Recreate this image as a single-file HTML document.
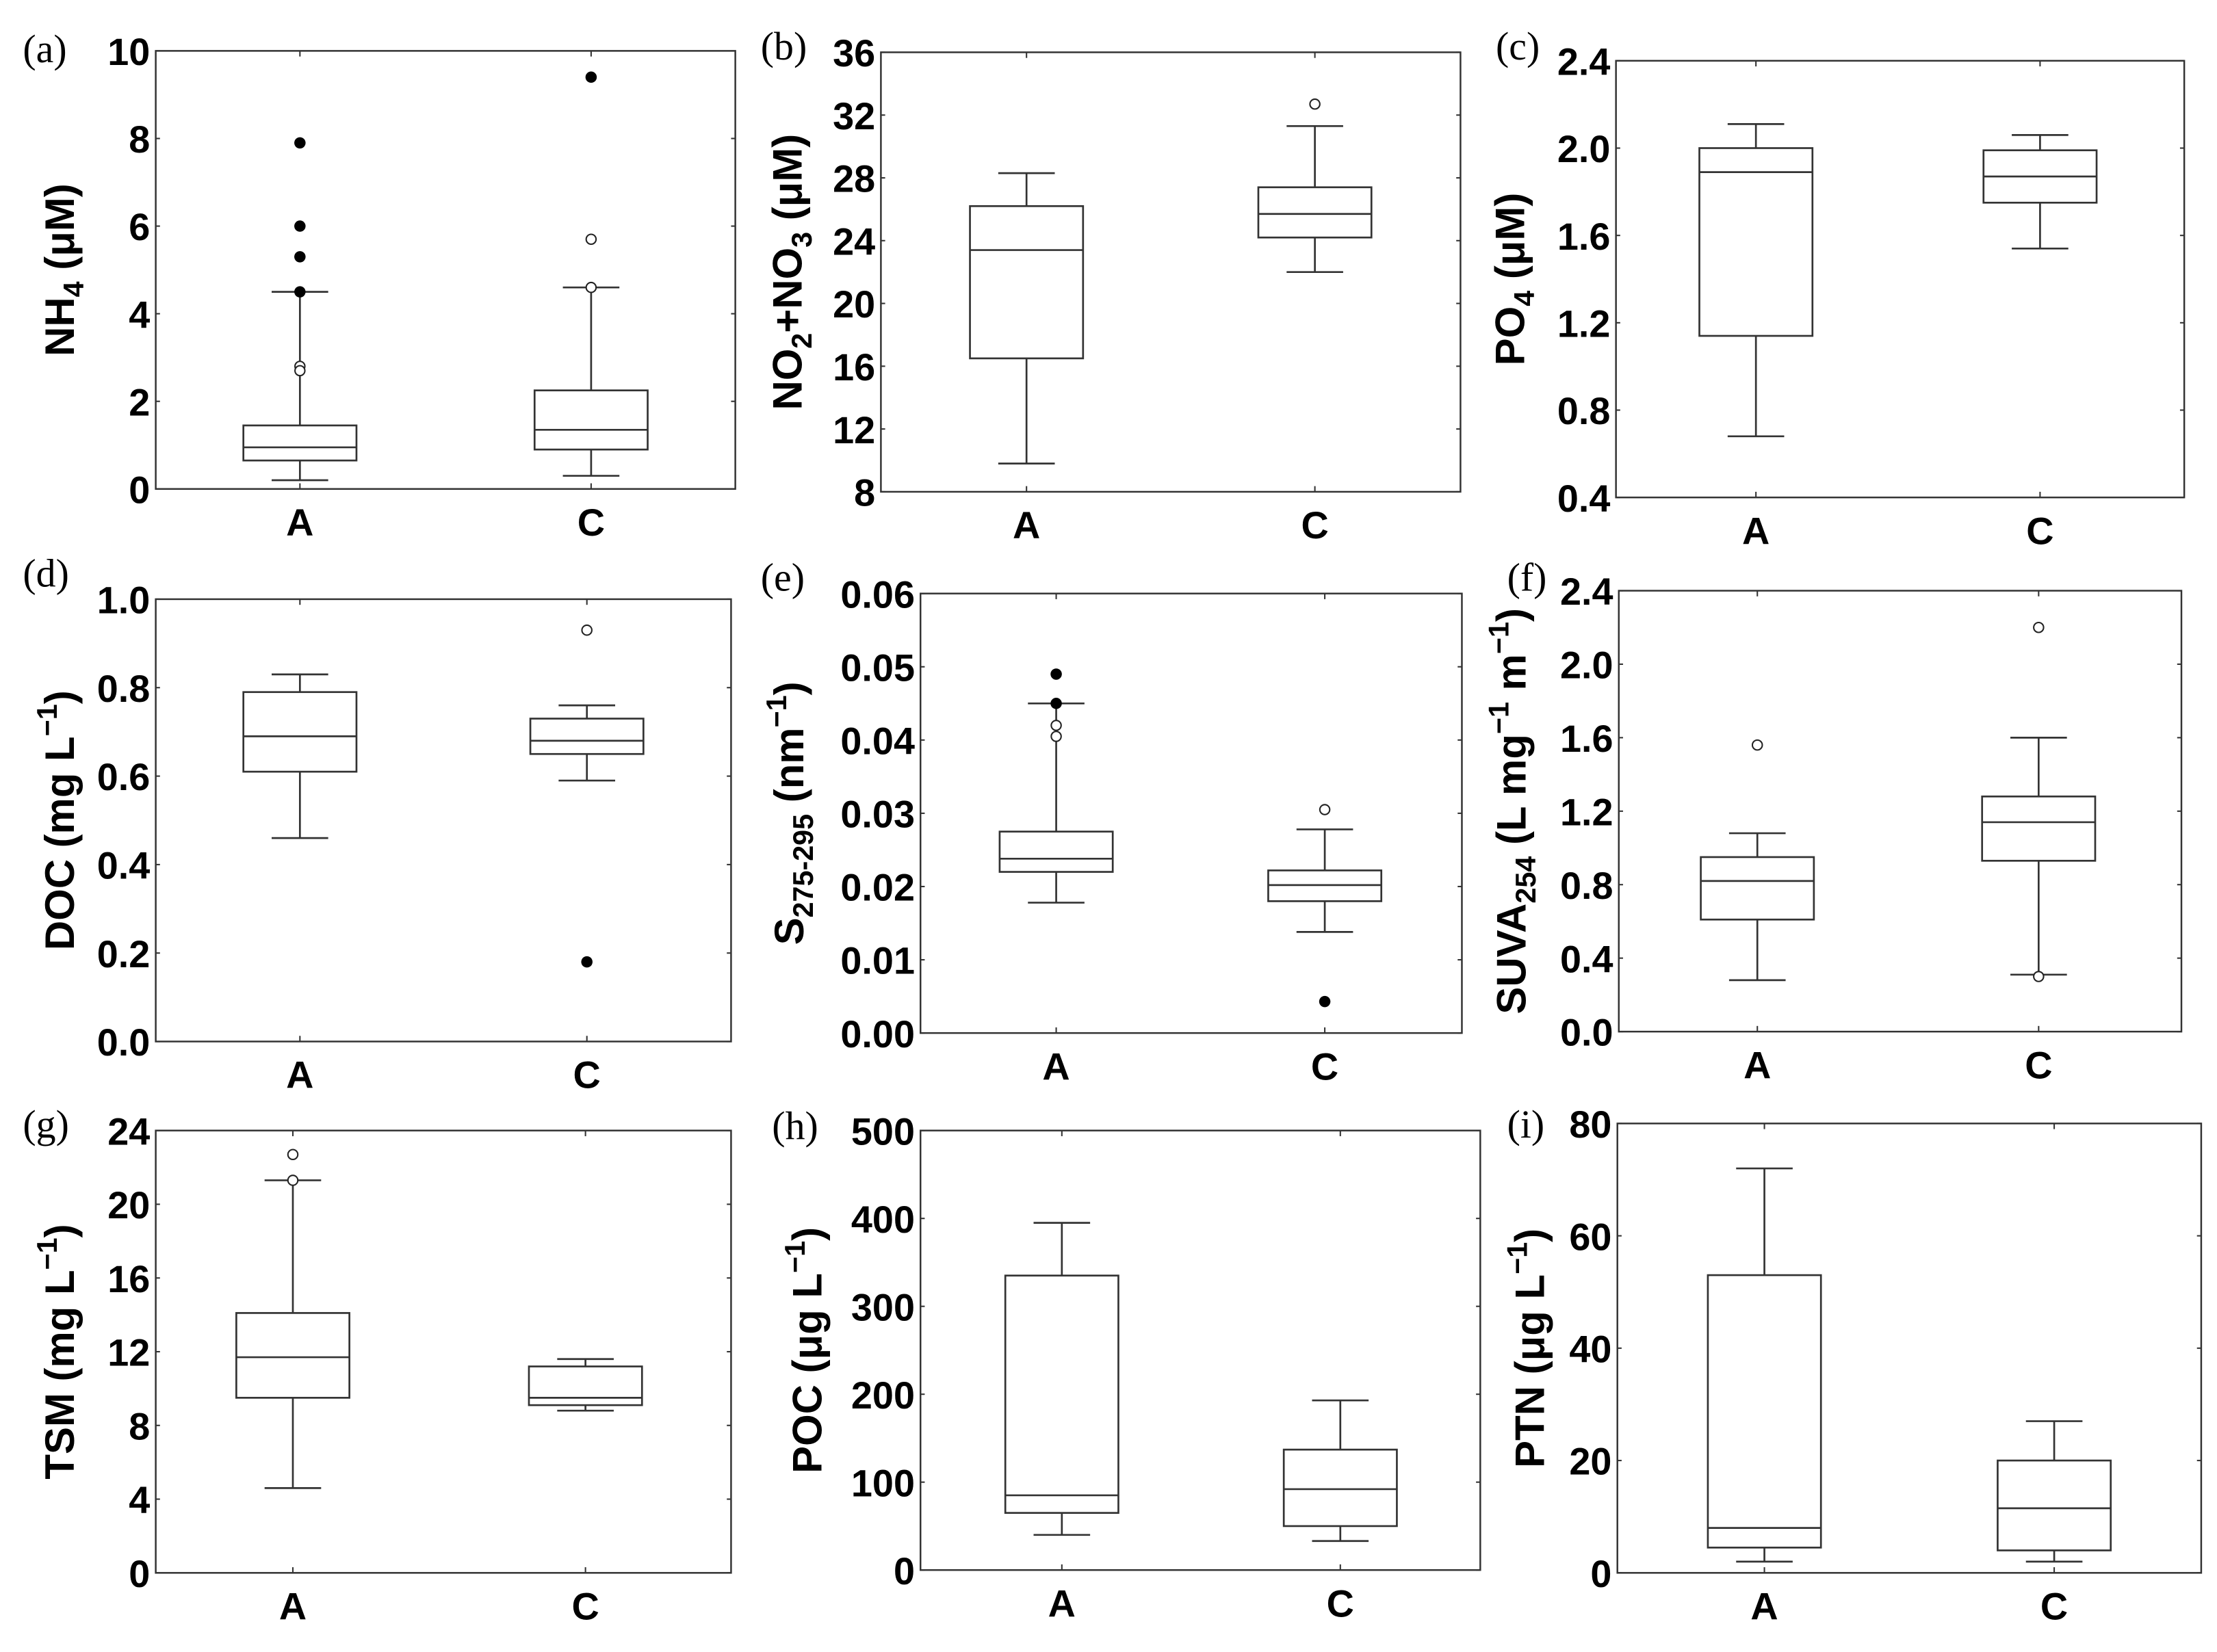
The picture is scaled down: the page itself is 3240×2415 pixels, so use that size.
<!DOCTYPE html>
<html><head><meta charset="utf-8"><style>
html,body{margin:0;padding:0;background:#fff;}
svg{display:block;}
.tick{font-family:"Liberation Sans",sans-serif;font-weight:bold;font-size:27px;fill:#000;}
.title{font-family:"Liberation Sans",sans-serif;font-weight:bold;font-size:29px;fill:#000;}
.plab{font-family:"Liberation Serif",serif;font-size:28px;fill:#000;}
</style></head><body>
<svg id="fig" width="3240" height="2415" viewBox="0 0 1568 1169" xmlns="http://www.w3.org/2000/svg"></svg>
<script>
const categories = ["A","C"];
const statsA = [
 [0.2,0.65,0.95,1.45,4.5],[9.8,16.5,23.4,26.2,28.3],[0.68,1.14,1.89,2.0,2.11],
 [0.46,0.61,0.69,0.79,0.83],[0.0178,0.022,0.0238,0.0275,0.045],[0.28,0.61,0.82,0.95,1.08],
 [4.6,9.5,11.7,14.1,21.3],[40,65,85,335,395],[2,4.5,8,53,72]];
const statsC = [
 [0.3,0.9,1.35,2.25,4.6],[22,24.2,25.7,27.4,31.3],[1.54,1.75,1.87,1.99,2.06],
 [0.59,0.65,0.68,0.73,0.76],[0.0138,0.018,0.0202,0.0222,0.0278],[0.31,0.93,1.14,1.28,1.6],
 [8.8,9.1,9.5,11.2,11.6],[33,50,92,137,193],[2,4,11.5,20,27]];
const openA = [[2.8,2.7],[],[],[],[0.042,0.0405],[1.56],[22.7,21.3],[],[]];
const filledA = [[7.9,6.0,5.3,4.5],[],[],[],[0.049,0.045],[],[],[],[]];
const openC = [[5.7,4.6],[32.7],[],[0.93],[0.0305],[2.2,0.30],[],[],[]];
const filledC = [[9.4],[],[],[0.18],[0.0043],[],[],[],[]];
const yMin = [0,8,0.4,0,0,0,0,0,0];
const yMax = [10,36,2.4,1.0,0.06,2.4,24,500,80];
const yStep = [2,4,0.4,0.2,0.01,0.4,4,100,20];
const decimals = [0,0,1,1,2,1,0,0,0];
const panelLetters = ["(a)","(b)","(c)","(d)","(e)","(f)","(g)","(h)","(i)"];
const titles = [
 [["NH",0],["4",1],[" (\u03bcM)",0]],
 [["NO",0],["2",1],["+NO",0],["3",1],[" (\u03bcM)",0]],
 [["PO",0],["4",1],[" (\u03bcM)",0]],
 [["DOC (mg L",0],["\u22121",2],[")",0]],
 [["S",0],["275-295",1],[" (nm",0],["\u22121",2],[")",0]],
 [["SUVA",0],["254",1],[" (L mg",0],["\u22121",2],[" m",0],["\u22121",2],[")",0]],
 [["TSM (mg L",0],["\u22121",2],[")",0]],
 [["POC (\u03bcg L",0],["\u22121",2],[")",0]],
 [["PTN (\u03bcg L",0],["\u22121",2],[")",0]]];
const frames = [[110,36,520,346],[623,37,1033,348],[1143,43,1545,352],
 [110,424,517,737],[651,420,1034,731],[1145,418,1543,730],
 [110,800,517,1113],[651,800,1047,1111],[1144,795,1557,1113]];
const catX = [[212,418],[726,930],[1242,1443],[212,415],[747,937],[1243,1442],[207,414],[751,948],[1248,1453]];
const titleX = [42,557,1068,42,558,1069,42,571,1082];
const NS="http://www.w3.org/2000/svg";
const svg=document.getElementById('fig');
function mk(tag,attrs,parent){const e=document.createElementNS(NS,tag);for(const k in attrs)e.setAttribute(k,attrs[k]);(parent||svg).appendChild(e);return e;}
for(let p=0;p<9;p++){
 const [L,T,R,B]=frames[p];
 const g=mk('g',{});
 
 
 const y=v=>B-(v-yMin[p])/(yMax[p]-yMin[p])*(B-T);
 const fr=mk('rect',{x:L,y:T,width:R-L,height:B-T,fill:'none',stroke:'#333','stroke-width':1.2},g);
 
 
 const n=Math.round((yMax[p]-yMin[p])/yStep[p]);
 for(let i=0;i<=n;i++){
  const v=yMin[p]+i*yStep[p];const yy=y(v);
  mk('line',{x1:L,x2:L+3,y1:yy,y2:yy,stroke:'#333','stroke-width':1},g);
  mk('line',{x1:R-3,x2:R,y1:yy,y2:yy,stroke:'#333','stroke-width':1},g);
  const t=mk('text',{x:L-4,y:yy+10,'text-anchor':'end',class:'tick'},g);
  t.textContent=v.toFixed(decimals[p]);
  
  
 }
 const ty=(T+B)/2;
 const bx=titleX[p]+10;
 const tt=mk('text',{x:bx,y:ty,'text-anchor':'middle',class:'title',transform:`rotate(-90 ${bx} ${ty})`},g);
 
 
 titles[p].forEach(([s,k])=>{const ts=mk('tspan',{},tt);ts.textContent=s;
  if(k===1){ts.setAttribute('font-size','20');ts.setAttribute('dy','7');}
  else if(k===2){ts.setAttribute('font-size','20');ts.setAttribute('dy','-12');}
  else ts.setAttribute('dy','0');
  if(k!==0){const r=mk('tspan',{'font-size':'1'},tt);r.textContent='\u200b';r.setAttribute('dy',k===1?'-7':'12');}
 });
 const pl=mk('text',{x:[16,538,1058,16,538,1066,16,546,1066][p],y:[44,42,42,415,418,418,805,806,805][p],class:'plab'},g);
 pl.textContent=panelLetters[p];
 
 
 const sets=[[statsA[p],openA[p],filledA[p]],[statsC[p],openC[p],filledC[p]]];
 sets.forEach(([s,op,fi],ci)=>{
  const cx=catX[p][ci];
  mk('line',{x1:cx,x2:cx,y1:B,y2:B-4,stroke:'#333','stroke-width':1},g);
  mk('line',{x1:cx,x2:cx,y1:T,y2:T+4,stroke:'#333','stroke-width':1},g);
  const xl=mk('text',{x:cx,y:B+33,'text-anchor':'middle',class:'tick'},g);
  xl.textContent=categories[ci];
  
  
  const bg=mk('g',{stroke:'#333','stroke-width':1.3,fill:'none'},g);
  
  
  mk('line',{x1:cx,x2:cx,y1:y(s[0]),y2:y(s[1])},bg);
  mk('line',{x1:cx,x2:cx,y1:y(s[3]),y2:y(s[4])},bg);
  mk('line',{x1:cx-20,x2:cx+20,y1:y(s[0]),y2:y(s[0])},bg);
  mk('line',{x1:cx-20,x2:cx+20,y1:y(s[4]),y2:y(s[4])},bg);
  mk('rect',{x:cx-40,y:y(s[3]),width:80,height:y(s[1])-y(s[3]),fill:'#fff'},bg);
  mk('line',{x1:cx-40,x2:cx+40,y1:y(s[2]),y2:y(s[2])},bg);
  op.forEach(v=>{const c=mk('circle',{cx:cx,cy:y(v),r:3.5,fill:'#fff',stroke:'#222','stroke-width':1},g);
   });
  fi.forEach(v=>{const c=mk('circle',{cx:cx,cy:y(v),r:4,fill:'#000'},g);
   });
 });
}
</script>
</body></html>
